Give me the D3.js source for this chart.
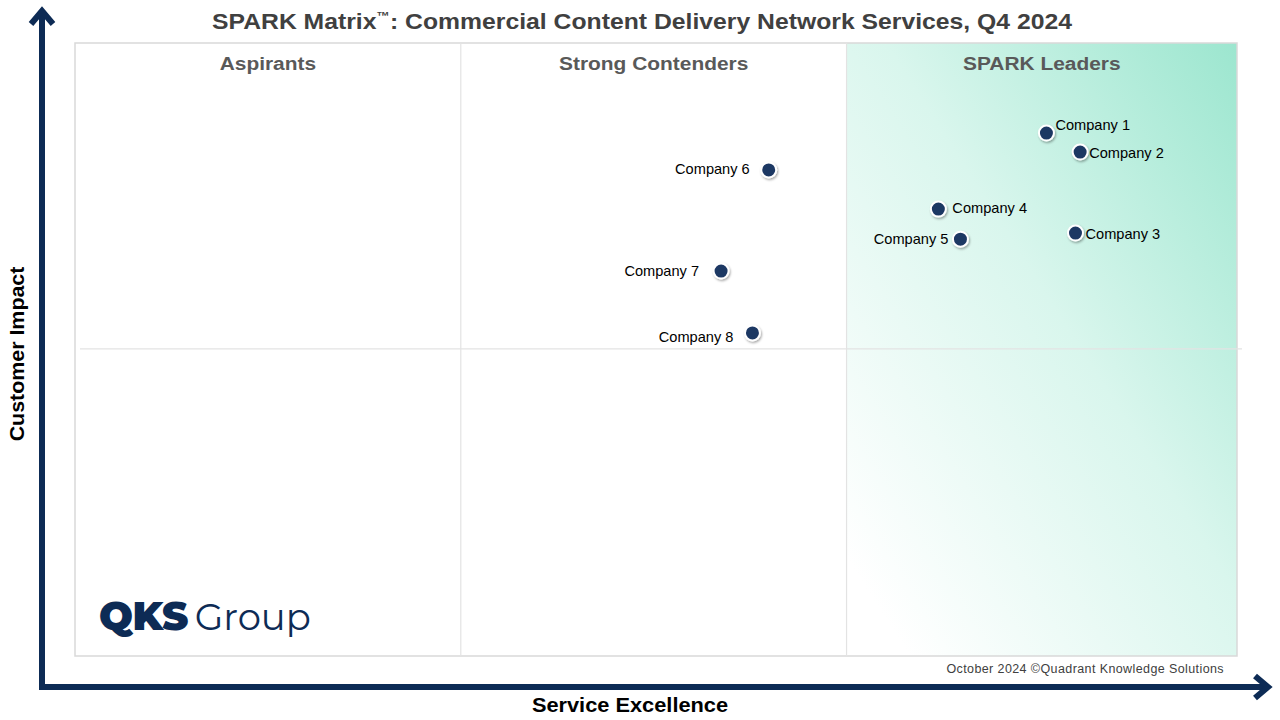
<!DOCTYPE html>
<html><head><meta charset="utf-8">
<script src="https://cdn.jsdelivr.net/npm/d3@7"></script>
<style>body{margin:0;background:#fff}svg{display:block}</style>
</head><body>
<svg id="c" width="1280" height="720"></svg>
<script>
const companies = ["Company 1","Company 2","Company 3","Company 4","Company 5","Company 6","Company 7","Company 8"];
const serviceExcellence = [83.6, 86.5, 86.1, 74.3, 76.2, 59.7, 55.6, 58.3];
const customerImpact = [85.3, 82.2, 69.0, 72.9, 68.0, 79.3, 62.8, 52.7];
const quadrants = ["Aspirants","Strong Contenders","SPARK Leaders"];
const xBreaks = [33.2, 66.4];
const yBreak = 50.1;

const svg = d3.select("#c");
const L=75,R=1237,T=43,B=656;
const x = d3.scaleLinear().domain([0,100]).range([L,R]);
const y = d3.scaleLinear().domain([0,100]).range([B,T]);
const navy="#0d2b55";
const FF="Liberation Sans, Arial, sans-serif";

const defs = svg.append("defs");
const g = defs.append("linearGradient").attr("id","lead").attr("x1","0").attr("y1","1").attr("x2","1").attr("y2","0");
g.append("stop").attr("offset","0.08").attr("stop-color","#ffffff");
g.append("stop").attr("offset","0.55").attr("stop-color","#d9f6ed");
g.append("stop").attr("offset","1").attr("stop-color","#9ce6cf");
const f = defs.append("filter").attr("id","sh").attr("x","-50%").attr("y","-50%").attr("width","200%").attr("height","200%");
f.append("feDropShadow").attr("dx",1).attr("dy",1.5).attr("stdDeviation",1.2).attr("flood-color","#000").attr("flood-opacity",0.35);

svg.append("rect").attr("x",x(xBreaks[1])).attr("y",T).attr("width",R-x(xBreaks[1])).attr("height",B-T).attr("fill","url(#lead)");
svg.append("rect").attr("x",L).attr("y",T).attr("width",R-L).attr("height",B-T).attr("fill","none").attr("stroke","#d9d9d9").attr("stroke-width",1.5);
svg.selectAll("line.v").data(xBreaks).enter().append("line")
  .attr("x1",d=>x(d)).attr("x2",d=>x(d)).attr("y1",T).attr("y2",B).attr("stroke","#e3e3e3").attr("stroke-width",1.2);
svg.append("line").attr("x1",80).attr("x2",1242).attr("y1",y(yBreak)).attr("y2",y(yBreak)).attr("stroke","#e3e3e3").attr("stroke-width",1.2);

const qb=[0,xBreaks[0],xBreaks[1],100];
svg.selectAll("g.q").data(quadrants).enter().append("g")
  .attr("transform",(d,i)=>`translate(${(x(qb[i])+x(qb[i+1]))/2},70) scale(1.1,1)`)
  .append("text").attr("text-anchor","middle")
  .attr("font-family",FF).attr("font-weight","bold").attr("font-size",19).attr("fill","#595959").text(d=>d);

const t = svg.append("g").attr("transform","translate(642,29) scale(1.125,1)").append("text").attr("text-anchor","middle")
  .attr("font-family",FF).attr("font-weight","bold").attr("font-size",22).attr("fill","#404040");
t.append("tspan").text("SPARK Matrix");
t.append("tspan").attr("font-size",12).attr("dy",-9).text("™");
t.append("tspan").attr("dy",9).text(": Commercial Content Delivery Network Services, Q4 2024");

svg.append("line").attr("x1",42).attr("x2",42).attr("y1",690).attr("y2",12).attr("stroke",navy).attr("stroke-width",6);
svg.append("path").attr("d","M31,24 L42,11 L53,24").attr("fill","none").attr("stroke",navy).attr("stroke-width",6);
svg.append("line").attr("x1",39).attr("x2",1266).attr("y1",687).attr("y2",687).attr("stroke",navy).attr("stroke-width",6);
svg.append("path").attr("d","M1255,676 L1268,687 L1255,698").attr("fill","none").attr("stroke",navy).attr("stroke-width",6);

svg.append("g").attr("transform","translate(24,354) rotate(-90) scale(1.07,1)").append("text").attr("text-anchor","middle")
  .attr("font-family",FF).attr("font-weight","bold").attr("font-size",20).attr("fill","#000").text("Customer Impact");
svg.append("g").attr("transform","translate(630,712) scale(1.09,1)").append("text").attr("text-anchor","middle")
  .attr("font-family",FF).attr("font-weight","bold").attr("font-size",20).attr("fill","#000").text("Service Excellence");

svg.append("text").attr("x",1224).attr("y",673).attr("text-anchor","end")
  .attr("font-family",FF).attr("font-size",12.5).attr("fill","#404040").attr("letter-spacing",0.4)
  .text("October 2024 ©Quadrant Knowledge Solutions");

const lg = svg.append("text").attr("x",99).attr("y",630).attr("font-family","Montserrat, Lato, sans-serif").attr("fill",navy);
lg.append("tspan").attr("font-weight","900").attr("font-size",40).attr("letter-spacing",-0.5).text("QKS");
lg.append("tspan").attr("font-weight","normal").attr("font-size",37).attr("dx",7).text("Group");

const data = companies.map((c,i)=>({name:c, x:serviceExcellence[i], y:customerImpact[i]}));
const labelPos = {"Company 1":[9,-8,"start"],"Company 2":[9,1,"start"],"Company 3":[10,1,"start"],"Company 4":[14,-1,"start"],
  "Company 5":[-12,0,"end"],"Company 6":[-19,-1,"end"],"Company 7":[-22,0,"end"],"Company 8":[-19,4,"end"]};
const pts = svg.selectAll("g.pt").data(data).enter().append("g").attr("transform",d=>`translate(${x(d.x)},${y(d.y)})`);
pts.append("circle").attr("r",7.5).attr("fill","#1f3864").attr("stroke","#fff").attr("stroke-width",2).attr("filter","url(#sh)");
pts.append("text").attr("x",d=>labelPos[d.name][0]).attr("y",d=>labelPos[d.name][1]).attr("dy","0.35em")
  .attr("text-anchor",d=>labelPos[d.name][2])
  .attr("font-family",FF).attr("font-size",14.6).attr("fill","#000").text(d=>d.name);
</script>
</body></html>
